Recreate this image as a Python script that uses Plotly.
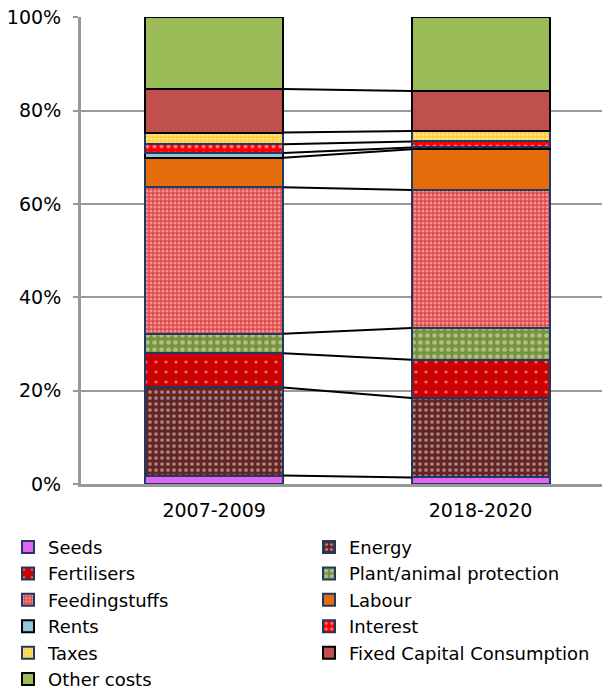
import plotly.graph_objects as go

periods = ["2007-2009", "2018-2020"]
series_names = ["Seeds", "Energy", "Fertilisers", "Plant/animal protection",
                "Feedingstuffs", "Labour", "Rents", "Interest", "Taxes",
                "Fixed Capital Consumption", "Other costs"]
seeds = [1.8, 1.4]
energy = [18.9, 17.0]
fertilisers = [7.3, 8.2]
plant_protection = [4.2, 6.8]
feedingstuffs = [31.4, 29.6]
labour = [6.3, 8.7]
rents = [1.0, 0.4]
interest = [1.9, 1.3]
taxes = [2.5, 2.2]
fixed_capital = [9.3, 8.6]
other_costs = [15.4, 15.8]
y_ticks = [0, 20, 40, 60, 80, 100]
y_tick_labels = ["0%", "20%", "40%", "60%", "80%", "100%"]

values = [seeds, energy, fertilisers, plant_protection, feedingstuffs, labour,
          rents, interest, taxes, fixed_capital, other_costs]

NAVY = "#1F3864"
styles = [
    dict(color="#E366EE", line=NAVY, pattern=None),
    dict(color="#632523", line=NAVY, pattern=dict(shape=".", bgcolor="#632523", fgcolor="#F2E6E6", size=6, solidity=0.3)),
    dict(color="#CC0000", line=NAVY, pattern=dict(shape=".", bgcolor="#CC0000", fgcolor="#FFE0E0", size=10, solidity=0.08)),
    dict(color="#77933C", line=NAVY, pattern=dict(shape=".", bgcolor="#77933C", fgcolor="#E6EED6", size=7, solidity=0.35)),
    dict(color="#E55B5B", line=NAVY, pattern=dict(shape=".", bgcolor="#E04848", fgcolor="#FFE4E4", size=4, solidity=0.45)),
    dict(color="#E46C0A", line=NAVY, pattern=None),
    dict(color="#93C6D8", line="#000000", pattern=None),
    dict(color="#FF0000", line=NAVY, pattern=dict(shape=".", bgcolor="#FF0000", fgcolor="#FFE8E8", size=7, solidity=0.25)),
    dict(color="#FFD54A", line=NAVY, pattern=dict(shape=".", bgcolor="#FFCF40", fgcolor="#FFF4C0", size=4, solidity=0.45)),
    dict(color="#C0504D", line="#000000", pattern=None),
    dict(color="#9BBB59", line="#000000", pattern=None),
]

xpos = [0, 1]
bar_w = 0.518
left_col = {0, 2, 4, 6, 8, 10}

fig = go.Figure()
for i, (name, vals, st) in enumerate(zip(series_names, values, styles)):
    marker = dict(color=st["color"], line=dict(color=st["line"], width=2))
    if st["pattern"]:
        marker["pattern"] = st["pattern"]
    fig.add_trace(go.Bar(
        x=xpos, y=vals, name=name, width=bar_w, marker=marker,
        legend="legend" if i in left_col else "legend2",
        legendgroup=name,
        hovertemplate=name + ": %{y:.1f}%<extra></extra>",
    ))

# series lines connecting segment tops
cum = [0.0, 0.0]
lx, ly = [], []
for vals in values[:-1]:
    cum = [cum[0] + vals[0], cum[1] + vals[1]]
    lx += [xpos[0] + bar_w / 2, xpos[1] - bar_w / 2, None]
    ly += [cum[0], cum[1], None]
fig.add_trace(go.Scatter(x=lx, y=ly, mode="lines", line=dict(color="black", width=2),
                         showlegend=False, hoverinfo="skip"))

FONT = "DejaVu Sans"
fig.update_layout(
    barmode="stack",
    width=602, height=680,
    margin=dict(l=73, r=0, t=9, b=204, autoexpand=False),
    plot_bgcolor="white", paper_bgcolor="white",
    font=dict(family=FONT, size=19, color="#000000"),
    bargap=0,
    legend=dict(x=-0.138, y=-0.096, xanchor="left", yanchor="top",
                traceorder="grouped", tracegroupgap=0, itemwidth=30,
                font=dict(family=FONT, size=18)),
    legend2=dict(x=0.431, y=-0.096, xanchor="left", yanchor="top",
                 traceorder="grouped", tracegroupgap=0, itemwidth=30,
                 font=dict(family=FONT, size=18)),
)
fig.update_xaxes(range=[-0.5, 1.486], tickvals=xpos, ticktext=periods,
                 showline=True, linecolor="#999999", linewidth=3,
                 ticks="", showgrid=False, zeroline=False, ticklabelstandoff=7)
fig.update_yaxes(range=[0, 100.05], tickvals=y_ticks, ticktext=y_tick_labels,
                 showline=True, linecolor="#999999", linewidth=3,
                 ticks="outside", ticklen=5, tickwidth=2, tickcolor="#999999",
                 showgrid=True, gridcolor="#999999", gridwidth=2,
                 zeroline=False, ticklabelstandoff=8, ticklabeloverflow="allow")

fig.write_html("out.html")
